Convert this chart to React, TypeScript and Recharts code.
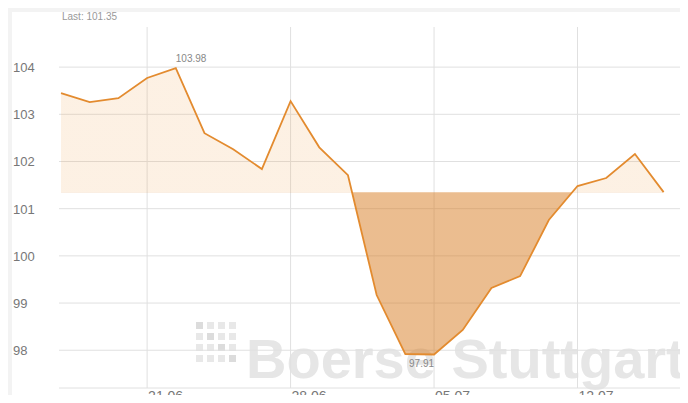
import React from 'react';
import { ComposedChart, Area, Line, XAxis, YAxis, CartesianGrid, LabelList } from 'recharts';

// trading days, 16.06. - 15.07.
const dates = [
  '16.06.', '17.06.', '18.06.', '21.06.', '22.06.', '23.06.', '24.06.', '25.06.',
  '28.06.', '29.06.', '30.06.', '01.07.', '02.07.', '05.07.', '06.07.', '07.07.',
  '08.07.', '09.07.', '12.07.', '13.07.', '14.07.', '15.07.',
];
const prices = [
  103.45, 103.26, 103.34, 103.77, 103.98, 102.6, 102.26, 101.84,
  103.28, 102.3, 101.71, 99.17, 97.92, 97.91, 98.43, 99.32,
  99.57, 100.76, 101.48, 101.65, 102.16, 101.35,
];
const weekTicks = [3, 8, 13, 18];
const priceTicks = [98, 99, 100, 101, 102, 103, 104];

const data = prices.map((p, i) => ({ i, price: p }));
const last = prices[prices.length - 1];
const maxP = Math.max(...prices);
const minP = Math.min(...prices);
const maxIdx = prices.indexOf(maxP);
const minIdx = prices.indexOf(minP);
const splitOffset = (maxP - last) / (maxP - minP);

const FONT = 'Arial, "Liberation Sans", sans-serif';

const YTick = (props: any) => (
  <text x={1} y={props.y} dy={5} fill="#777" fontSize={13} fontFamily={FONT} textAnchor="start">
    {props.payload.value}
  </text>
);

const XTick = (props: any) => (
  <text x={props.x + 1} y={props.y} dy={5} fill="#777" fontSize={14} fontFamily={FONT} textAnchor="start">
    {dates[props.payload.value]}
  </text>
);

const extremeLabel = (props: any) => {
  const { x, y, index, value } = props;
  if (index === maxIdx) {
    return (
      <text x={x} y={y - 6} fill="#888" fontSize={10} fontFamily={FONT} textAnchor="start">
        {value.toFixed(2)}
      </text>
    );
  }
  if (index === minIdx) {
    return (
      <text x={x} y={y + 13} fill="#888" fontSize={10} fontFamily={FONT} textAnchor="end">
        {value.toFixed(2)}
      </text>
    );
  }
  return null;
};

const App: React.FC = () => {
  return (
    <div
      style={{
        position: 'relative',
        width: 688,
        height: 403,
        margin: -8,
        background: '#f3f3f3',
        overflow: 'hidden',
        fontFamily: FONT,
      }}
    >
      <div style={{ position: 'absolute', left: 12, top: 12, width: 676, height: 391, background: '#fff' }} />

      {/* watermark */}
      <div
        style={{
          position: 'absolute',
          left: 196,
          top: 322,
          display: 'grid',
          gridTemplateColumns: 'repeat(4, 7px)',
          gap: 4,
        }}
      >
        {Array.from({ length: 16 }).map((_, k) => (
          <div key={k} style={{ width: 7, height: 7, background: k % 5 === 0 ? '#dcdcdc' : '#e8e8e8' }} />
        ))}
      </div>
      <div
        style={{
          position: 'absolute',
          left: 246,
          top: 329,
          fontSize: 56,
          fontWeight: 'bold',
          color: '#e6e6e6',
          whiteSpace: 'nowrap',
          lineHeight: '60px',
        }}
      >
        Boerse Stuttgart
      </div>

      <div style={{ position: 'absolute', left: 62, top: 11, fontSize: 10, color: '#999' }}>
        {`Last: ${last.toFixed(2)}`}
      </div>

      <div style={{ position: 'absolute', left: 12, top: 12 }}>
        <ComposedChart width={676} height={391} data={data} margin={{ top: 15, right: 0, bottom: 0, left: 0 }}>
          <defs>
            <linearGradient id="split" x1="0" y1="0" x2="0" y2="1">
              <stop offset={splitOffset} stopColor="#ee9a3c" stopOpacity={0.14} />
              <stop offset={splitOffset} stopColor="#d77b20" stopOpacity={0.5} />
            </linearGradient>
          </defs>
          <CartesianGrid stroke="#e0e0e0" syncWithTicks />
          <XAxis
            dataKey="i"
            type="number"
            domain={[-0.07, 21.85]}
            allowDataOverflow
            ticks={weekTicks}
            tick={<XTick />}
            tickLine={false}
            axisLine={{ stroke: '#e0e0e0' }}
            height={15}
          />
          <YAxis
            type="number"
            domain={[97.2, 104.85]}
            allowDataOverflow
            ticks={priceTicks}
            tick={<YTick />}
            tickLine={false}
            axisLine={false}
            width={47}
          />
          <Area
            type="linear"
            dataKey="price"
            baseValue={last}
            stroke="none"
            fill="url(#split)"
            fillOpacity={1}
            isAnimationActive={false}
          />
          <Line
            type="linear"
            dataKey="price"
            stroke="#e38b2f"
            strokeWidth={1.8}
            dot={false}
            isAnimationActive={false}
          >
            <LabelList dataKey="price" content={extremeLabel} />
          </Line>
        </ComposedChart>
      </div>
    </div>
  );
};

export default App;
